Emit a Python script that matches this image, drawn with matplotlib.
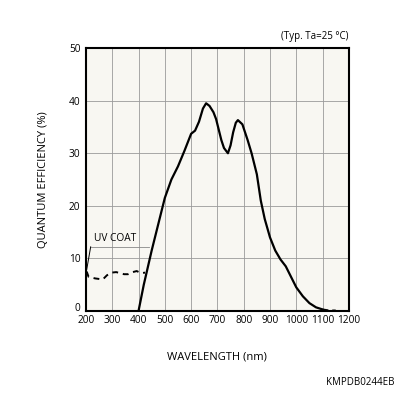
import matplotlib
matplotlib.use("Agg")
import matplotlib.pyplot as plt
from matplotlib.transforms import ScaledTranslation

# main spectral response curve (nm, %)
wl_main = [400, 420, 450, 475, 500, 525, 550, 575, 600, 615, 630, 645, 657, 670,
           685, 695, 705, 715, 725, 740, 750, 760, 770, 778, 795, 815, 830, 850,
           865, 880, 900, 920, 940, 960, 975, 1000, 1025, 1050, 1075, 1100]
qe_main = [0, 5, 11.5, 16.5, 21.5, 25, 27.5, 30.5, 33.7, 34.3, 36, 38.5, 39.5, 39,
           37.8, 36.5, 34.5, 32.5, 31, 30, 31.5, 34, 35.8, 36.3, 35.5, 32.5, 30, 26,
           21, 17.5, 14, 11.5, 9.8, 8.5, 7, 4.5, 2.8, 1.5, 0.7, 0.3]

# tail beyond 1100 nm (dashed)
wl_tail = [1100, 1125, 1150]
qe_tail = [0.3, 0.1, 0.1]

# UV coat curve (dashed)
wl_uv = [203, 210, 235, 264, 280, 297, 315, 330, 345, 360, 378, 393, 410, 425]
qe_uv = [7.5, 6.5, 6.2, 6.0, 6.8, 7.3, 7.4, 7.2, 7.0, 7.0, 7.4, 7.6, 7.2, 7.3]

xticks = list(range(200, 1201, 100))
yticks = list(range(0, 51, 10))

font = "Open Sans"
fs = 7.3

fig = plt.figure(figsize=(3.96, 3.96), dpi=100)
ax = fig.add_axes([0.217, 0.2146, 0.664, 0.664])
ax.set_facecolor("#f8f7f2")

ax.plot(wl_main, qe_main, color="black", lw=1.6, solid_capstyle="round")
ax.plot(wl_tail, qe_tail, color="black", lw=1.4, ls=(0, (3, 2)))
ax.plot(wl_uv, qe_uv, color="black", lw=1.4, ls=(0, (3, 2.5)))

ax.set_xlim(200, 1200)
ax.set_ylim(0, 50)
ax.set_xticks(xticks)
ax.set_yticks(yticks)
ax.set_xticklabels([str(v) for v in xticks], fontsize=fs, family=font)
ax.set_yticklabels([str(v) for v in yticks], fontsize=fs, family=font)
ax.tick_params(axis="x", length=0, pad=3)
ax.tick_params(axis="y", length=0, pad=4)
# nudge the "0" label up so it clears the "200" below it
zero_lbl = ax.get_yticklabels()[0]
zero_lbl.set_transform(zero_lbl.get_transform() + ScaledTranslation(0, 3 / 72, fig.dpi_scale_trans))
ax.grid(True, color="#9a9a9a", lw=0.6)
for s in ax.spines.values():
    s.set_linewidth(1.5)

ax.set_xlabel("WAVELENGTH (nm)", fontsize=8, family=font, labelpad=18)
ax.set_ylabel("QUANTUM EFFICIENCY (%)", fontsize=8, family=font, labelpad=14)

# UV COAT annotation
ax.plot([218, 440], [12.2, 12.2], color="#888888", lw=0.6, clip_on=False)
ax.plot([218, 203], [12.2, 7.9], color="black", lw=0.7, clip_on=False)
ax.text(232, 12.7, "UV COAT", fontsize=7.3, family=font, ha="left", va="bottom")

fig.text(0.881, 0.893, "(Typ. Ta=25 °C)", fontsize=7, family=font, ha="right", va="bottom")
fig.text(0.995, 0.02, "KMPDB0244EB", fontsize=7, family=font, ha="right", va="bottom")

fig.savefig("out.png", dpi=100)
